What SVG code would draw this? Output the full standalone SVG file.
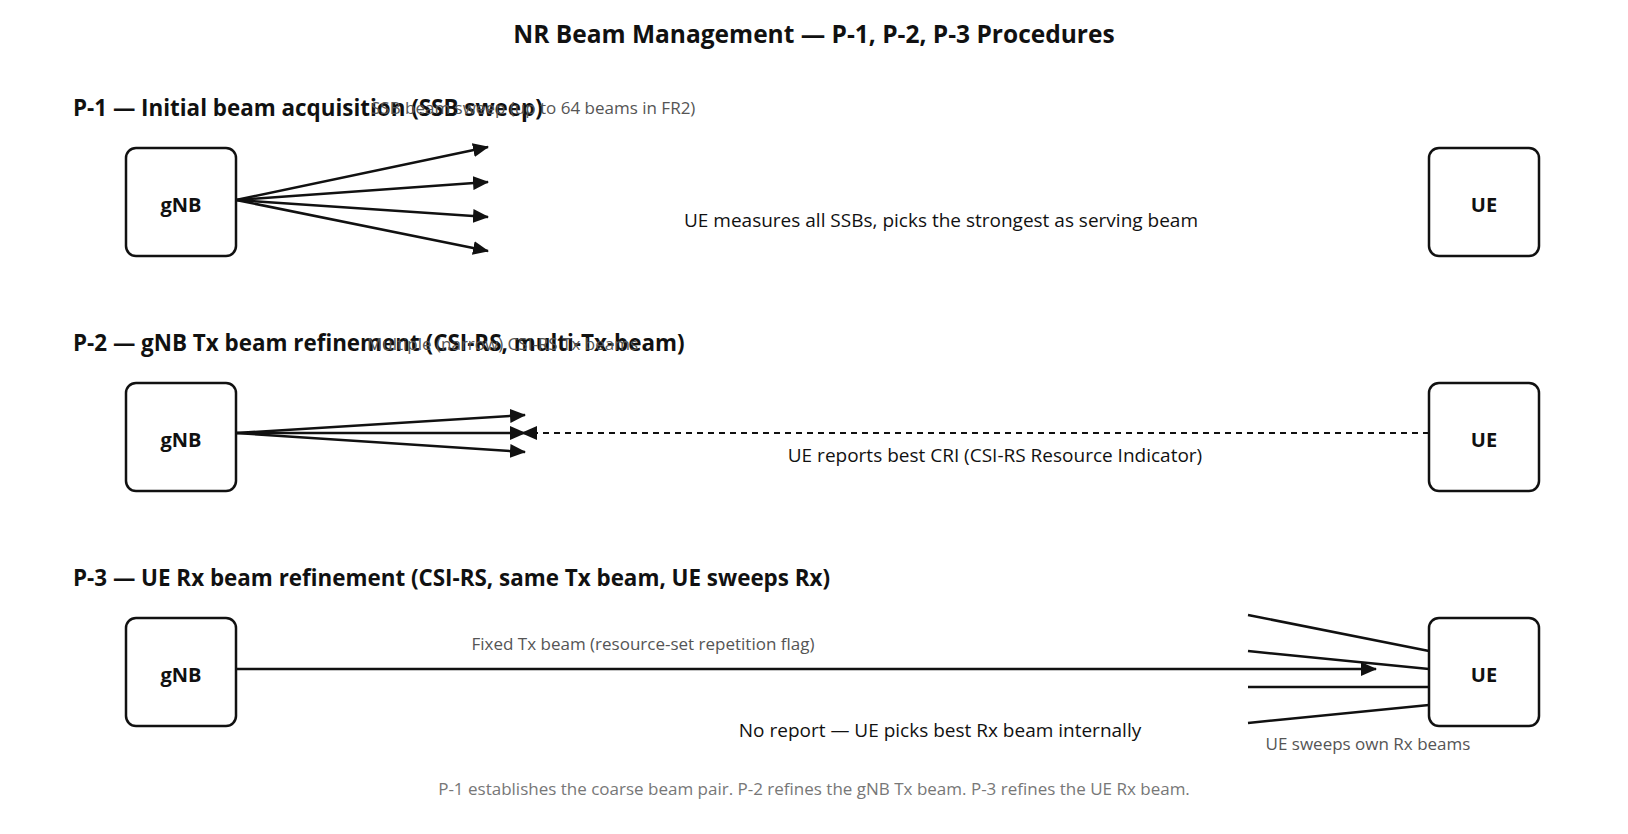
<svg xmlns="http://www.w3.org/2000/svg" width="1628" height="834" viewBox="0 0 1628 834">
<defs>
<style>
.title{font-family:"Open Sans","Noto Sans",sans-serif;font-weight:700;font-size:24.5px;fill:#111;text-anchor:middle}
.head{font-family:"Open Sans","Noto Sans",sans-serif;font-weight:700;font-size:22.4px;fill:#111}
.node rect{fill:#fff;stroke:#111;stroke-width:2.5}
.node text{font-family:"Open Sans","Noto Sans",sans-serif;font-weight:700;font-size:20px;fill:#111;text-anchor:middle}
.lbl{font-family:"Open Sans","Noto Sans",sans-serif;font-size:19px;fill:#111;text-anchor:middle}
.sub{font-family:"Open Sans","Noto Sans",sans-serif;font-size:17px;fill:#555}
.foot{font-family:"Open Sans","Noto Sans",sans-serif;font-size:17px;fill:#777;text-anchor:middle}
.ln{stroke:#111;stroke-width:2.5;fill:none}
.arr{marker-end:url(#ah)}
.dash{stroke-dasharray:6 5;stroke-width:2}
</style>
<marker id="ah" viewBox="0 0 16 14" markerWidth="16" markerHeight="14" refX="15" refY="7" orient="auto" markerUnits="userSpaceOnUse">
<path d="M0,0 L16,7 L0,14 z" fill="#111"/>
</marker>
</defs>
<rect width="1628" height="834" fill="#fff"/>
<text class="title" x="814" y="43">NR Beam Management — P-1, P-2, P-3 Procedures</text>

<text class="head" x="73" y="116">P-1 — Initial beam acquisition (SSB sweep)</text>
<text class="head" x="73" y="351">P-2 — gNB Tx beam refinement (CSI-RS, multi-Tx-beam)</text>
<text class="head" x="73" y="586">P-3 — UE Rx beam refinement (CSI-RS, same Tx beam, UE sweeps Rx)</text>

<g id="connectors">
<line class="ln arr" x1="236" y1="200" x2="488" y2="147"/>
<line class="ln arr" x1="236" y1="200" x2="488" y2="182"/>
<line class="ln arr" x1="236" y1="200" x2="488" y2="217"/>
<line class="ln arr" x1="236" y1="200" x2="488" y2="251"/>
<text class="sub" x="371" y="114">SSB beam sweep (up to 64 beams in FR2)</text>
<text class="lbl" x="941" y="227">UE measures all SSBs, picks the strongest as serving beam</text>

<line class="ln arr" x1="236" y1="433" x2="525" y2="415"/>
<line class="ln arr" x1="236" y1="433" x2="525" y2="433"/>
<line class="ln arr" x1="236" y1="433" x2="525" y2="452"/>
<line class="ln arr dash" x1="1429" y1="433" x2="522" y2="433"/>
<text class="sub" x="367" y="350">Multiple (narrow) CSI-RS Tx beams</text>
<text class="lbl" x="995" y="462">UE reports best CRI (CSI-RS Resource Indicator)</text>

<line class="ln arr" x1="236" y1="669" x2="1376" y2="669"/>
<line class="ln" x1="1248" y1="615" x2="1429" y2="651"/>
<line class="ln" x1="1248" y1="651" x2="1429" y2="669"/>
<line class="ln" x1="1248" y1="687" x2="1429" y2="687"/>
<line class="ln" x1="1248" y1="723" x2="1429" y2="705"/>
<text class="sub" x="643" y="650" text-anchor="middle">Fixed Tx beam (resource-set repetition flag)</text>
<text class="lbl" x="940" y="737">No report — UE picks best Rx beam internally</text>
<text class="sub" x="1368" y="750" text-anchor="middle">UE sweeps own Rx beams</text>
</g>

<g id="gnb1" class="node"><rect x="126" y="148" width="110" height="108" rx="10"/><text x="181" y="212">gNB</text></g>
<g id="ue1" class="node"><rect x="1429" y="148" width="110" height="108" rx="10"/><text x="1484" y="212">UE</text></g>
<g id="gnb2" class="node"><rect x="126" y="383" width="110" height="108" rx="10"/><text x="181" y="447">gNB</text></g>
<g id="ue2" class="node"><rect x="1429" y="383" width="110" height="108" rx="10"/><text x="1484" y="447">UE</text></g>
<g id="gnb3" class="node"><rect x="126" y="618" width="110" height="108" rx="10"/><text x="181" y="682">gNB</text></g>
<g id="ue3" class="node"><rect x="1429" y="618" width="110" height="108" rx="10"/><text x="1484" y="682">UE</text></g>

<text class="foot" x="814" y="795">P-1 establishes the coarse beam pair. P-2 refines the gNB Tx beam. P-3 refines the UE Rx beam.</text>
</svg>
